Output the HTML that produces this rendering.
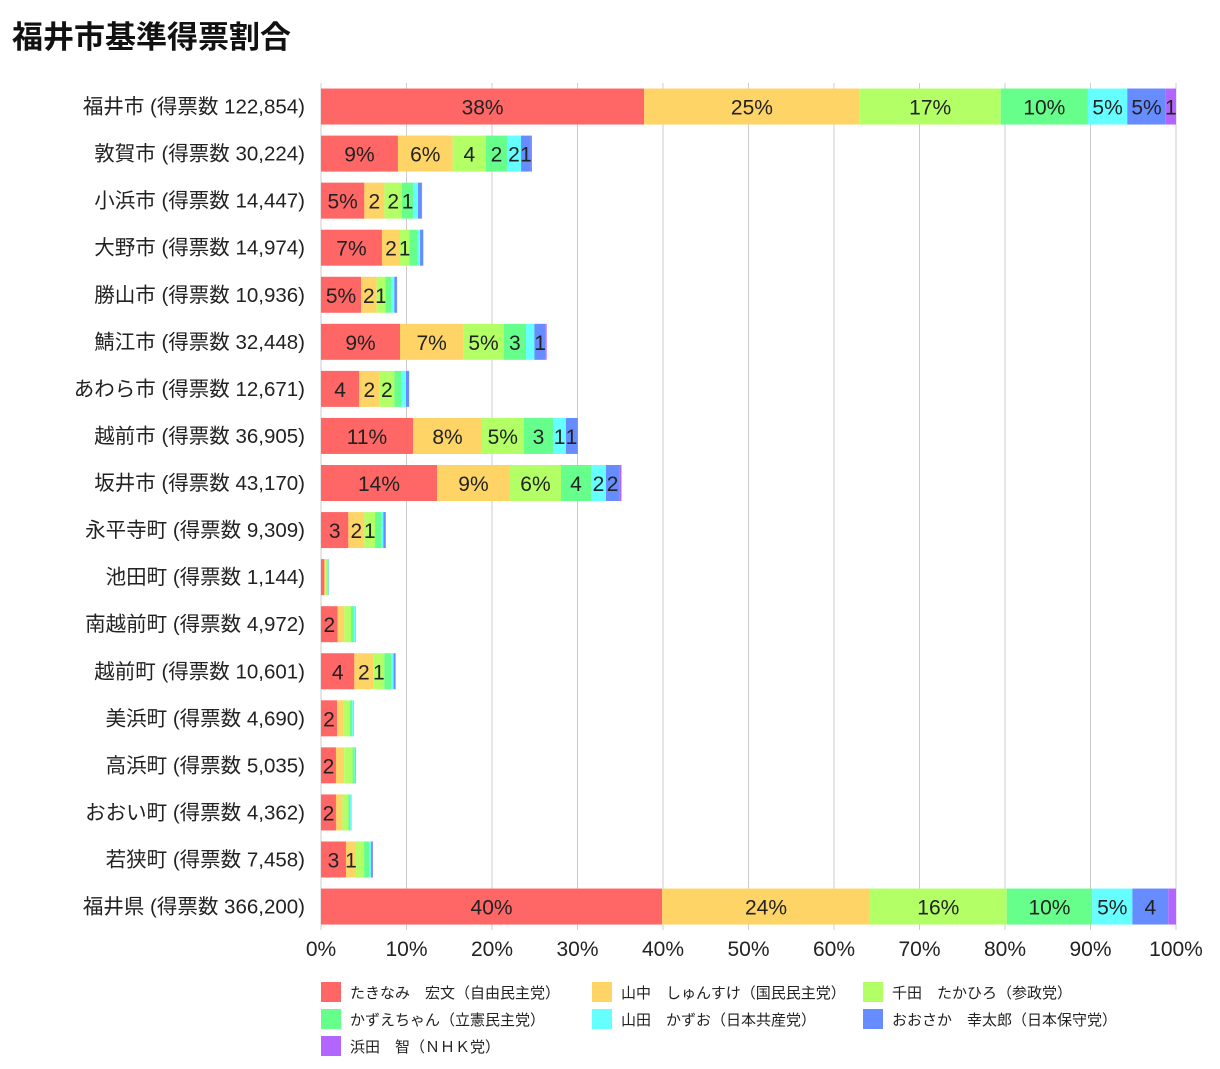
<!DOCTYPE html>
<html><head><meta charset="utf-8">
<style>
body{margin:0;background:#fff;font-family:"Liberation Sans","Noto Sans CJK JP",sans-serif;}
#wrap{position:relative;width:1220px;height:1069px;overflow:hidden;}
h1{position:absolute;left:12px;top:12px;margin:0;font-size:31px;font-weight:bold;color:#111;}
</style></head><body>
<div id="wrap">
<h1>福井市基準得票割合</h1>
<svg id="chart" width="1220" height="1069" style="position:absolute;left:0;top:0"></svg>
</div>
<script>
const categories=["福井市 (得票数 122,854)","敦賀市 (得票数 30,224)","小浜市 (得票数 14,447)","大野市 (得票数 14,974)","勝山市 (得票数 10,936)","鯖江市 (得票数 32,448)","あわら市 (得票数 12,671)","越前市 (得票数 36,905)","坂井市 (得票数 43,170)","永平寺町 (得票数 9,309)","池田町 (得票数 1,144)","南越前町 (得票数 4,972)","越前町 (得票数 10,601)","美浜町 (得票数 4,690)","高浜町 (得票数 5,035)","おおい町 (得票数 4,362)","若狭町 (得票数 7,458)","福井県 (得票数 366,200)"];
const seriesNames=["たきなみ　宏文（自由民主党）","山中　しゅんすけ（国民民主党）","千田　たかひろ（参政党）","かずえちゃん（立憲民主党）","山田　かずお（日本共産党）","おおさか　幸太郎（日本保守党）","浜田　智（ＮＨＫ党）"];
const takinami=[37.8,9.0,5.07,7.13,4.68,9.24,4.48,10.76,13.57,3.2,0.39,1.95,3.9,1.87,1.75,1.75,2.92,39.9];
const yamanaka=[25.2,6.4,2.34,2.11,1.83,7.41,2.34,8.07,8.53,1.87,0.16,0.78,2.22,0.8,0.97,0.75,1.17,24.3];
const senda=[16.5,3.9,2.06,1.09,1.01,4.71,1.76,4.87,5.97,1.25,0.2,0.78,1.29,0.7,0.97,0.7,0.95,16.0];
const kazue=[10.2,2.45,1.33,0.95,0.67,2.62,0.85,3.47,3.51,0.7,0.1,0.35,0.78,0.28,0.24,0.2,0.62,10.0];
const yamada=[4.6,1.65,0.55,0.31,0.39,0.98,0.51,1.48,1.75,0.27,0.05,0.14,0.3,0.12,0.12,0.1,0.2,4.7];
const oosaka=[4.5,1.15,0.42,0.35,0.3,1.33,0.35,1.29,1.56,0.28,0.03,0.05,0.22,0.05,0.05,0.05,0.16,4.2];
const hamada=[1.2,0.12,0.05,0.03,0.02,0.1,0.02,0.1,0.25,0.01,0.0,0.0,0.02,0.0,0.0,0.0,0.05,0.9];
const xTicks=["0%","10%","20%","30%","40%","50%","60%","70%","80%","90%","100%"];
const series=[takinami,yamanaka,senda,kazue,yamada,oosaka,hamada];
const colors=["#ff6666","#ffd466","#b3ff66","#66ff8c","#66ffff","#668cff","#b366ff"];
const NS="http://www.w3.org/2000/svg";
const svg=document.getElementById("chart");
const x0=321,x1=1176,yTop=83,step=47.06,barH=36;
const xs=v=>x0+(x1-x0)*v/100;
const yc=i=>yTop+step*i+step/2;
function mk(t,a){const e=document.createElementNS(NS,t);for(const k in a)e.setAttribute(k,a[k]);svg.appendChild(e);return e;}
xTicks.forEach((t,i)=>{
  const x=xs(i*10);
  const l=mk("line",{x1:x,x2:x,y1:yTop,y2:930,stroke:"#ccc","stroke-width":1});
  
  
  const tx=mk("text",{x:x,y:956,"font-size":21,"text-anchor":"middle",fill:"#222"});
  tx.textContent=t;
  
  
});
categories.forEach((c,i)=>{
  const t=mk("text",{x:305,y:yc(i)+7,"font-size":20.5,"text-anchor":"end",fill:"#222"});
  t.textContent=c;
  
  
  let acc=0;
  series.forEach((s,j)=>{
    const v=s[i];
    if(v<=0)return;
    const xa=xs(acc),xb=xs(acc+v);
    const r=mk("rect",{x:xa,y:yc(i)-barH/2,width:xb-xa,height:barH,fill:colors[j]});
    
    
    if(v>=1.0){
      const rv=Math.round(v);
      const lb=mk("text",{x:(xa+xb)/2,y:yc(i)+8,"font-size":21,"text-anchor":"middle",fill:"#222"});
      lb.textContent=rv>=5?rv+"%":String(rv);
      
      
    }
    acc+=v;
  });
});
seriesNames.forEach((n,j)=>{
  const col=j%3,row=Math.floor(j/3);
  const x=321+col*271,y=982+row*27;
  const r=mk("rect",{x:x,y:y,width:20,height:20,fill:colors[j]});
  
  
  const t=mk("text",{x:x+29,y:y+16,"font-size":15,fill:"#222"});
  t.textContent=n;
  
  
});
</script>
</body></html>
